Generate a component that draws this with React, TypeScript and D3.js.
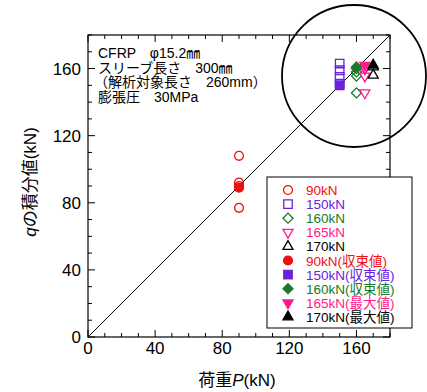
import React from "react";
import * as d3 from "d3";

const loads = [90, 150, 160, 165, 170];
const open90 = [108, 92, 90, 77];
const conv90 = [89];
const open150 = [163, 159, 155, 151];
const conv150 = [150];
const open160 = [160, 158, 155.5, 145.5];
const conv160 = [161];
const open165 = [160, 160, 155.5, 145.5];
const max165 = [162];
const open170 = [161, 156];
const max170 = [162];

const xTicks = [0, 40, 80, 120, 160];
const yTicks = [0, 40, 80, 120, 160];
const legendLabels = [
  "90kN", "150kN", "160kN", "165kN", "170kN",
  "90kN(収束値)", "150kN(収束値)", "160kN(収束値)", "165kN(最大値)", "170kN(最大値)",
];
const noteLines = [
  "CFRP　φ15.2㎜",
  "スリーブ長さ　300㎜",
  "（解析対象長さ　260mm）",
  "膨張圧　30MPa",
];

const RED = "#ee1111";
const PURPLE = "#6a22dd";
const GREEN = "#1a7a2a";
const PINK = "#ff1a8c";
const BLACK = "#000000";

const FONT = "'Liberation Sans', Arial, 'Noto Sans CJK JP', sans-serif";

type Kind = "circle" | "square" | "diamond" | "tdown" | "tup";

function symPath(kind: Kind): string {
  switch (kind) {
    case "circle":
      return d3.symbol(d3.symbolCircle, 62)()!;
    case "square":
      return d3.symbol(d3.symbolSquare, 72)()!;
    case "diamond":
      return d3.symbol(d3.symbolSquare, 50)()!;
    case "tdown":
    case "tup":
      return d3.symbol(d3.symbolTriangle, 44)()!;
  }
}

function Marker({ kind, x, y, color, filled }: { kind: Kind; x: number; y: number; color: string; filled: boolean }) {
  const rot = kind === "diamond" ? 45 : kind === "tdown" ? 180 : 0;
  return (
    <path
      d={symPath(kind)}
      transform={`translate(${x},${y}) rotate(${rot})`}
      fill={filled ? color : "white"}
      fillOpacity={filled ? 1 : 0}
      stroke={color}
      strokeWidth={1.3}
    />
  );
}

export default function App() {
  const left = 88, right = 390, top = 35, bottom = 337;
  const x = d3.scaleLinear().domain([0, 180]).range([left, right]);
  const y = d3.scaleLinear().domain([0, 180]).range([bottom, top]);
  const minor = d3.range(0, 181, 10);

  const openSeries: { load: number; vals: number[]; kind: Kind; color: string }[] = [
    { load: loads[0], vals: open90, kind: "circle", color: RED },
    { load: loads[1], vals: open150, kind: "square", color: PURPLE },
    { load: loads[2], vals: open160, kind: "diamond", color: GREEN },
    { load: loads[3], vals: open165, kind: "tdown", color: PINK },
    { load: loads[4], vals: open170, kind: "tup", color: BLACK },
  ];
  const filledSeries: { load: number; vals: number[]; kind: Kind; color: string }[] = [
    { load: loads[0], vals: conv90, kind: "circle", color: RED },
    { load: loads[1], vals: conv150, kind: "square", color: PURPLE },
    { load: loads[2], vals: conv160, kind: "diamond", color: GREEN },
    { load: loads[3], vals: max165, kind: "tdown", color: PINK },
    { load: loads[4], vals: max170, kind: "tup", color: BLACK },
  ];
  const legendKinds: Kind[] = ["circle", "square", "diamond", "tdown", "tup"];
  const legendColors = [RED, PURPLE, GREEN, PINK, BLACK];

  return (
    <svg width={427} height={392} style={{ position: "absolute", left: 0, top: 0, background: "white" }} fontFamily={FONT}>
      <defs>
        <clipPath id="plotclip">
          <rect x={left} y={top} width={right - left} height={bottom - top} />
        </clipPath>
      </defs>
      {/* diagonal */}
      <line x1={x(0)} y1={y(0)} x2={x(180)} y2={y(180)} stroke="black" strokeWidth={1} clipPath="url(#plotclip)" />
      {/* ticks */}
      {minor.map((v) => {
        const len = v % 40 === 0 ? 7 : 4;
        return (
          <g key={v} stroke="black" strokeWidth={1}>
            <line x1={x(v)} y1={bottom} x2={x(v)} y2={bottom - len} />
            <line x1={x(v)} y1={top} x2={x(v)} y2={top + len} />
            <line x1={left} y1={y(v)} x2={left + len} y2={y(v)} />
            <line x1={right} y1={y(v)} x2={right - len} y2={y(v)} />
          </g>
        );
      })}
      <rect x={left} y={top} width={right - left} height={bottom - top} fill="none" stroke="black" strokeWidth={1.2} />
      {/* tick labels */}
      {xTicks.map((v) => (
        <text key={"x" + v} x={x(v)} y={bottom + 17} fontSize={17} textAnchor="middle">{v}</text>
      ))}
      {yTicks.map((v) => (
        <text key={"y" + v} x={left - 7} y={y(v) + 6} fontSize={17} textAnchor="end">{v}</text>
      ))}
      {/* axis titles */}
      <text x={237} y={386} fontSize={17} textAnchor="middle">
        荷重<tspan fontStyle="italic">P</tspan>(kN)
      </text>
      <text transform={`translate(36,182) rotate(-90)`} fontSize={17} textAnchor="middle">
        <tspan fontStyle="italic">q</tspan>の積分値(kN)
      </text>
      {/* note */}
      {noteLines.map((t, i) => (
        <text key={i} x={i === 2 ? 94 : 98} y={58 + i * 14.5} fontSize={14}>{t}</text>
      ))}
      {/* data */}
      {openSeries.map((s) =>
        s.vals.map((v, i) => (
          <Marker key={s.kind + "o" + i} kind={s.kind} x={x(s.load)} y={y(v)} color={s.color} filled={false} />
        ))
      )}
      {filledSeries.map((s) =>
        s.vals.map((v, i) => (
          <Marker key={s.kind + "f" + i} kind={s.kind} x={x(s.load)} y={y(v)} color={s.color} filled={true} />
        ))
      )}
      {/* annotation circle */}
      <ellipse cx={354} cy={76} rx={72} ry={71} fill="none" stroke="black" strokeWidth={1.8} />
      {/* legend */}
      <rect x={267} y={177} width={145} height={151} fill="white" stroke="black" strokeWidth={1} />
      {legendLabels.map((lab, i) => {
        const ly = 190 + i * 14.1;
        const k = legendKinds[i % 5];
        const c = legendColors[i % 5];
        return (
          <g key={lab}>
            <Marker kind={k} x={288} y={ly} color={c} filled={i >= 5} />
            <text x={306} y={ly + 5} fontSize={13.5} fill={c}>{lab}</text>
          </g>
        );
      })}
    </svg>
  );
}
